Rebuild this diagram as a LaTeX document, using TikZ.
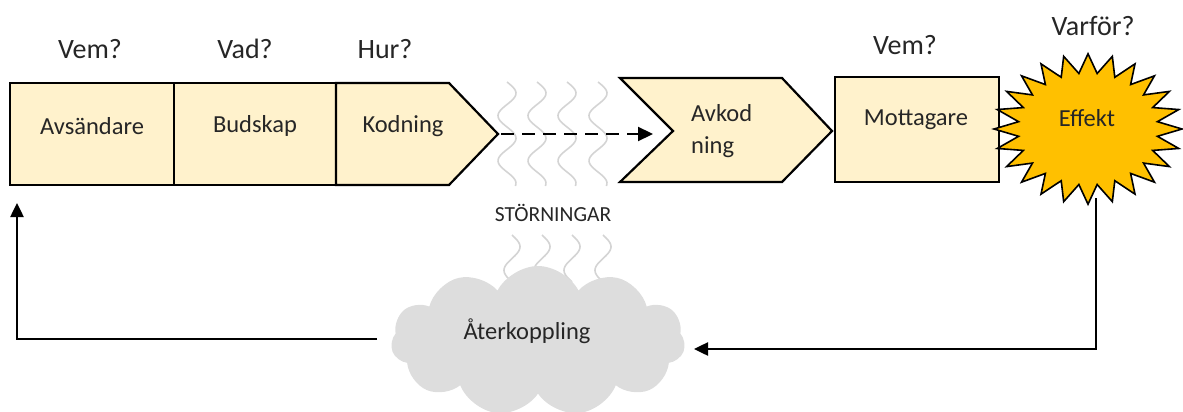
\documentclass[tikz,border=0pt]{standalone}
\usepackage{fontspec}
\setmainfont{Carlito}
\usetikzlibrary{shapes.symbols,arrows.meta}
\definecolor{boxY}{HTML}{FFF2CC}
\definecolor{starY}{HTML}{FFC000}
\definecolor{cloudG}{HTML}{DDDDDD}
\definecolor{waveG}{HTML}{D4D4D4}
\definecolor{txtc}{HTML}{262626}
\tikzset{
  box/.style={draw=black, line width=2.2pt, fill=boxY, line join=miter},
  txt/.style={font=\fontsize{24.5}{28}\selectfont, text=txtc, inner sep=0pt},
  lbl/.style={font=\fontsize{28}{32}\selectfont, text=txtc, inner sep=0pt},
  small/.style={font=\fontsize{21.5}{24}\selectfont, text=txtc, inner sep=0pt},
  fb/.style={draw=black, line width=2.5pt, -{Triangle[length=14pt,width=13pt]}},
  dasharrow/.style={draw=black, line width=2.2pt, dash pattern=on 13pt off 8pt, -{Triangle[length=15pt,width=14pt]}},
  wave/.style={draw=waveG, line width=1.6pt},
}
\begin{document}
\begin{tikzpicture}[x=1pt,y=-1pt]
\useasboundingbox (0,0) rectangle (1183,412);
% waves (behind)
\foreach \c in {507,537,567,598}{
  \draw[wave] plot[domain=0:104, samples=60, smooth] ({\c+9*sin(\x*8)}, {82+\x});
  \draw[wave] plot[domain=0:47, samples=40, smooth] ({\c+5+8*sin(\x*7.66)}, {235+\x});
}
% cloud
\node[cloud, cloud puffs=11, cloud puff arc=125, aspect=1.9, minimum width=294pt, minimum height=150pt, fill=cloudG, draw=none] (cloud) at (538,341) {};
\node[txt] (fbtxt) at (527,331) {Återkoppling};
\coordinate (fbin) at (694,349);
\coordinate (fbout) at (377,339);
% sender strip
\draw[box] (10,83) rectangle (174,185);
\draw[box] (174,83) rectangle (336,185);
\draw[box] (336,83) -- (449,83) -- (498,134) -- (449,185) -- (336,185) -- cycle;
\coordinate (kodtip) at (498,134);
\coordinate (avsSW) at (17,185);
\node[txt] (avs) at (92,126) {Avsändare};
\node[txt] (bud) at (255,126) {Budskap};
\node[txt] (kod) at (403,126) {Kodning};
% decoding chevron
\draw[box] (620,78) -- (782,78) -- (832,131) -- (782,182) -- (620,182) -- (673,131) -- cycle;
\coordinate (avknotch) at (673,131);
\node[font=\fontsize{24.5}{32}\selectfont, text=txtc, inner sep=0pt, align=left, anchor=west] (avk) at (691,131) {Avkod\\ning};
% receiver
\draw[box] (835,77) rectangle (999,182);
\node[txt] (mot) at (916,120) {Mottagare};
% starburst
\draw[draw=black, line width=1.6pt, fill=starY, line join=miter]
  (1088+94,129) foreach \i in {1,...,47} { -- ({1088+(82+12*cos(\i*180))*cos(\i*7.5)}, {129+0.8*(82+12*cos(\i*180))*sin(\i*7.5)}) } -- cycle;
\node[txt] (eff) at (1087,118) {Effekt};
\coordinate (starS) at (1096,198);
% labels
\node[lbl] (q1) at (90,49) {Vem?};
\node[lbl] (q2) at (245,49) {Vad?};
\node[lbl] (q3) at (385,49) {Hur?};
\node[lbl] (q4) at (905,45) {Vem?};
\node[lbl] (q5) at (1093,26) {Varför?};
\node[small] (stor) at (553,213) {STÖRNINGAR};
% connectors
\draw[dasharrow] ([xshift=3pt]kodtip) -- ([xshift=-20pt]avknotch |- kodtip);
\draw[fb] (starS) |- (fbin);
\draw[fb] (fbout) -| ([yshift=-18pt]avsSW);
\end{tikzpicture}
\end{document}
